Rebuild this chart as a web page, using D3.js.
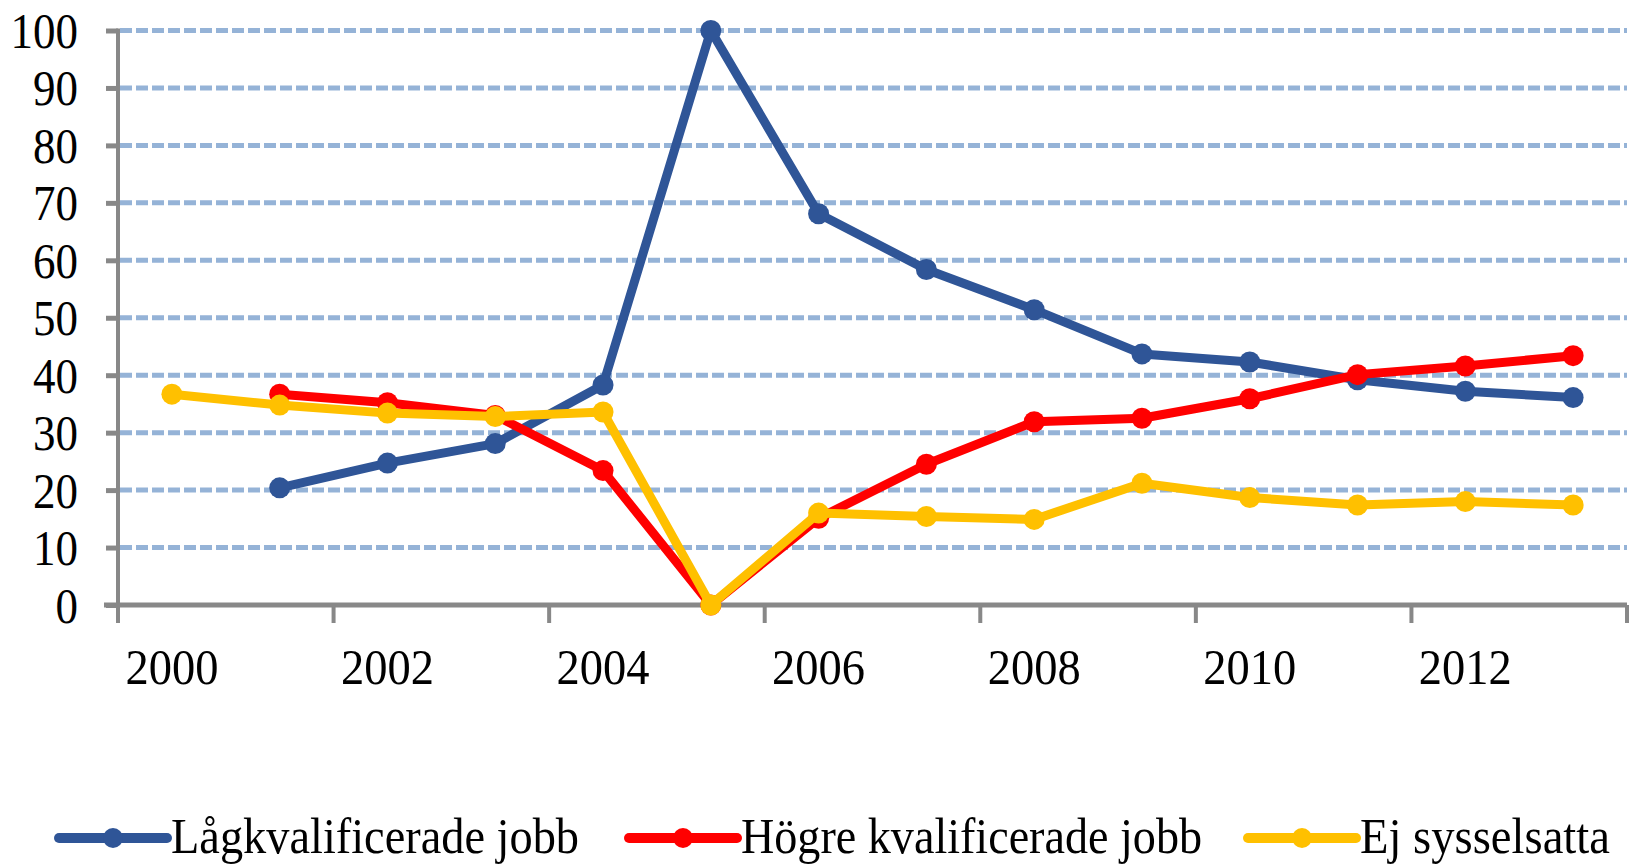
<!DOCTYPE html>
<html>
<head>
<meta charset="utf-8">
<script src="https://cdn.jsdelivr.net/npm/d3@7"></script>
<style>
  html, body { margin: 0; padding: 0; background: #fff; }
  svg { display: block; }
  text { font-family: "Liberation Serif", "Times New Roman", serif; fill: #000; }
</style>
</head>
<body>
<svg width="1635" height="868"></svg>
<script>
// kategorier (år) och serier
const years = ["2000", "2001", "2002", "2003", "2004", "2005", "2006",
  "2007", "2008", "2009", "2010", "2011", "2012", "2013"];
const lagkval = [null, 20.4, 24.7, 28.1, 38.3, 100, 68.1, 58.4, 51.4, 43.7, 42.3, 39.2, 37.2, 36.1];
const hogre = [null, 36.7, 35.2, 33.0, 23.4, 0, 15.1, 24.5, 31.9, 32.5, 35.9, 40.1, 41.6, 43.4];
const ejSyss = [36.7, 34.8, 33.4, 32.8, 33.6, 0, 16.0, 15.4, 14.9, 21.2, 18.7, 17.4, 18.0, 17.4];
const yTicks = [0, 10, 20, 30, 40, 50, 60, 70, 80, 90, 100];
const xLabels = ["2000", "2002", "2004", "2006", "2008", "2010", "2012"];

const series = [
  { name: "Lågkvalificerade jobb", values: lagkval, color: "#2F5597" },
  { name: "Högre kvalificerade jobb", values: hogre, color: "#FF0000" },
  { name: "Ej sysselsatta", values: ejSyss, color: "#FFC000" }
];

var svg = d3.select("svg");
const g = svg.append("g");

// skalor
var x = d3.scaleBand().domain(years).range([118, 1627]);
var y = d3.scaleLinear().domain([0, 100]).range([605, 30.5]);

// stödlinjer (streckade)
g.append("g")
  .selectAll("line")
  .data(yTicks.filter((d) => d > 0))
  .enter()
  .append("line")
  .attr("x1", x.range()[0] + 2)
  .attr("x2", x.range()[1])
  .attr("y1", (d) => y(d))
  .attr("y2", (d) => y(d))
  .attr("stroke", "#95B3D7")
  .attr("stroke-width", 5)
  .attr("stroke-dasharray", "12,4");

// y-axel
var yAxis = g.append("g")
  .attr("transform", "translate(" + x.range()[0] + ",0)")
  .call(d3.axisLeft(y).tickValues(yTicks).tickSize(12).tickPadding(28));
yAxis.select(".domain").remove();
yAxis.selectAll(".tick line").attr("stroke", "#888").attr("stroke-width", 5);
yAxis.selectAll(".tick text")
  .attr("font-size", 50)
  .attr("dy", "0.34em")
  .attr("text-anchor", "end")
  .attr("transform", "translate(-40,0) scale(0.9,1) translate(40,0)");
yAxis.append("line")
  .attr("x1", 0).attr("x2", 0)
  .attr("y1", y(100) - 2).attr("y2", y(0))
  .attr("stroke", "#888").attr("stroke-width", 4);

// x-axel
var xAxis = g.append("g")
  .attr("transform", "translate(0," + y(0) + ")")
  .call(d3.axisBottom(x).tickValues(xLabels).tickSize(0).tickPadding(44));
xAxis.select(".domain").remove();
xAxis.selectAll(".tick text")
  .attr("font-size", 50)
  .attr("dy", "0.71em")
  .attr("transform", "scale(0.93,1)");
xAxis.append("line")
  .attr("x1", x.range()[0] - 14).attr("x2", x.range()[1])
  .attr("y1", 0).attr("y2", 0)
  .attr("stroke", "#888").attr("stroke-width", 5);
// skiljestreck mellan varannan kategori
const xTickPos = xLabels.map((d) => x(d)).concat([x.range()[1]]);
xAxis.selectAll(".sep")
  .data(xTickPos)
  .enter()
  .append("line")
  .attr("class", "sep")
  .attr("x1", (d) => d).attr("x2", (d) => d)
  .attr("y1", 0).attr("y2", 18)
  .attr("stroke", "#888").attr("stroke-width", 4);

// linjer och punkter
var line = d3.line()
  .defined((d) => d != null)
  .x((d, i) => x(years[i]) + x.bandwidth() / 2)
  .y((d) => y(d));

series.forEach(function (s) {
  g.append("path")
    .datum(s.values)
    .attr("d", line)
    .attr("fill", "none")
    .attr("stroke", s.color)
    .attr("stroke-width", 9)
    .attr("stroke-linejoin", "round");
  g.append("g")
    .selectAll("circle")
    .data(s.values.map((v, i) => ({ v: v, year: years[i] })).filter((d) => d.v != null))
    .enter()
    .append("circle")
    .attr("cx", (d) => x(d.year) + x.bandwidth() / 2)
    .attr("cy", (d) => y(d.v))
    .attr("r", 10.5)
    .attr("fill", s.color);
});

// teckenförklaring
const legendX = [59, 629, 1248];
const legendW = [408, 461, 250];
const leg = g.append("g").attr("transform", "translate(0,838)");
series.forEach(function (s, i) {
  const item = leg.append("g").attr("transform", "translate(" + legendX[i] + ",0)");
  item.append("line")
    .attr("x1", 0).attr("x2", 108)
    .attr("y1", 0).attr("y2", 0)
    .attr("stroke", s.color)
    .attr("stroke-width", 10)
    .attr("stroke-linecap", "round");
  item.append("circle").attr("cx", 54).attr("cy", 0).attr("r", 10).attr("fill", s.color);
  item.append("text")
    .attr("x", 112)
    .attr("y", 15)
    .attr("font-size", 50)
    .attr("textLength", legendW[i])
    .attr("lengthAdjust", "spacingAndGlyphs")
    .text(s.name);
});
</script>
</body>
</html>
